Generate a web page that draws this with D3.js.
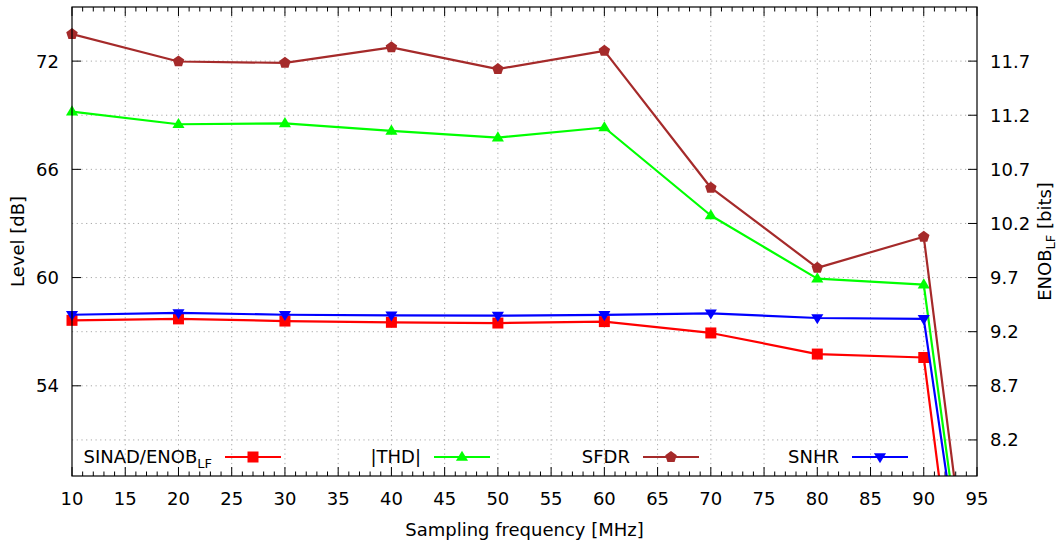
<!DOCTYPE html>
<html>
<head>
<meta charset="utf-8">
<script src="https://cdn.jsdelivr.net/npm/d3@7.9.0/dist/d3.min.js"></script>
<style>
  body { margin: 0; background: #fff; }
  svg { display: block; font-family: "DejaVu Sans", sans-serif; }
</style>
</head>
<body>
<svg id="chart" width="1057" height="548"></svg>
<script>
// sampling frequency in MHz (100 MHz point lies off the plot, only its line shows)
const freqs = [10, 20, 30, 40, 50, 60, 70, 80, 90, 100];
// levels in dB
const sinad = [57.63, 57.71, 57.59, 57.52, 57.48, 57.56, 56.93, 55.76, 55.57, 9.6];
const thd   = [69.20, 68.50, 68.55, 68.13, 67.76, 68.32, 63.44, 59.94, 59.61, 16.1];
const sfdr  = [73.50, 71.98, 71.90, 72.76, 71.56, 72.57, 64.98, 60.54, 62.26, 15.6];
const snhr  = [57.94, 58.04, 57.94, 57.91, 57.89, 57.93, 58.02, 57.76, 57.71, 17.2];

const xTicks = d3.range(10, 96, 5);
const yTicks = [54, 60, 66, 72];
// right axis: ENOB labels sit on these dB levels
const y2TickDb = [51, 54, 57, 60, 63, 66, 69, 72];
const y2TickLabels = ["8.2", "8.7", "9.2", "9.7", "10.2", "10.7", "11.2", "11.7"];

const series = [
  { name: "SINAD/ENOB", sub: "LF", values: sinad, color: "#ff0000", marker: "square" },
  { name: "|THD|", sub: null, values: thd, color: "#00ff00", marker: "triUp" },
  { name: "SFDR", sub: null, values: sfdr, color: "#a52a2a", marker: "pentagon" },
  { name: "SNHR", sub: null, values: snhr, color: "#0000ff", marker: "triDown" }
];

const svg = d3.select("#chart");
const pLeft = 72, pRight = 977, pTop = 7, pBottom = 476;

const x = d3.scaleLinear().domain([10, 95]).range([pLeft, pRight]);
const y = d3.scaleLinear().domain([49, 75]).range([pBottom, pTop]);

function markerPath(type, r) {
  if (type === "square") {
    return `M${-r},${-r}H${r}V${r}H${-r}Z`;
  }
  if (type === "triUp") {
    const h = r * 1.15;
    return `M0,${-h}L${r * 1.1},${h * 0.6}L${-r * 1.1},${h * 0.6}Z`;
  }
  if (type === "triDown") {
    const h = r * 1.15;
    return `M0,${h}L${r * 1.1},${-h * 0.6}L${-r * 1.1},${-h * 0.6}Z`;
  }
  // pentagon
  let pts = [];
  for (let i = 0; i < 5; i++) {
    let a = -Math.PI / 2 + i * 2 * Math.PI / 5;
    pts.push([r * 1.1 * Math.cos(a), r * 1.1 * Math.sin(a)]);
  }
  return "M" + pts.map(p => p.join(",")).join("L") + "Z";
}

// grid
const grid = svg.append("g").attr("stroke", "#a8a8a8").attr("stroke-width", 1)
  .attr("stroke-dasharray", "1.2,3.5");
xTicks.slice(1, -1).forEach(t => {
  grid.append("line").attr("x1", x(t)).attr("x2", x(t)).attr("y1", pTop).attr("y2", pBottom);
});
y2TickDb.forEach(t => {
  grid.append("line").attr("x1", pLeft).attr("x2", pRight).attr("y1", y(t)).attr("y2", y(t));
});

// ticks
const ticks = svg.append("g").attr("stroke", "#000").attr("stroke-width", 1);
d3.range(10, 96, 1).forEach(t => {
  const len = (t % 5 === 0) ? 9 : 4.5;
  ticks.append("line").attr("x1", x(t)).attr("x2", x(t)).attr("y1", pBottom).attr("y2", pBottom - len);
  ticks.append("line").attr("x1", x(t)).attr("x2", x(t)).attr("y1", pTop).attr("y2", pTop + len);
});
yTicks.forEach(t => {
  ticks.append("line").attr("x1", pLeft).attr("x2", pLeft + 9).attr("y1", y(t)).attr("y2", y(t));
});
y2TickDb.forEach(t => {
  ticks.append("line").attr("x1", pRight).attr("x2", pRight - 9).attr("y1", y(t)).attr("y2", y(t));
});

// tick labels
const fs = 18;
xTicks.forEach(t => {
  svg.append("text").attr("x", x(t)).attr("y", 505).attr("text-anchor", "middle")
    .attr("font-size", fs).text(t);
});
yTicks.forEach(t => {
  svg.append("text").attr("x", 59).attr("y", y(t)).attr("dy", "0.36em").attr("text-anchor", "end")
    .attr("font-size", fs).text(t);
});
y2TickDb.forEach((t, i) => {
  svg.append("text").attr("x", 990).attr("y", y(t)).attr("dy", "0.36em").attr("text-anchor", "start")
    .attr("font-size", fs).text(y2TickLabels[i]);
});

// axis titles
svg.append("text").attr("x", (pLeft + pRight) / 2).attr("y", 536).attr("text-anchor", "middle")
  .attr("font-size", fs).text("Sampling frequency [MHz]");
svg.append("text").attr("transform", `translate(24,${(pTop + pBottom) / 2}) rotate(-90)`)
  .attr("text-anchor", "middle").attr("font-size", fs).text("Level [dB]");
const y2t = svg.append("text").attr("transform", `translate(1051,${(pTop + pBottom) / 2}) rotate(-90)`)
  .attr("text-anchor", "middle").attr("font-size", fs);
y2t.append("tspan").text("ENOB");
y2t.append("tspan").attr("font-size", 13).attr("dy", 4).text("LF");
y2t.append("tspan").attr("dy", -4).text(" [bits]");

// lines
svg.append("clipPath").attr("id", "clip").append("rect")
  .attr("x", pLeft).attr("y", pTop).attr("width", pRight - pLeft).attr("height", pBottom - pTop);

const line = d3.line().x((d, i) => x(freqs[i])).y(d => y(d));

series.forEach(s => {
  svg.append("path").attr("clip-path", "url(#clip)")
    .attr("d", line(s.values)).attr("fill", "none")
    .attr("stroke", s.color).attr("stroke-width", 2.2).attr("stroke-linejoin", "round");
  s.values.forEach((v, i) => {
    if (freqs[i] > 95 || v < 49) return;
    svg.append("path").attr("transform", `translate(${x(freqs[i])},${y(v)})`)
      .attr("d", markerPath(s.marker, 5.5)).attr("fill", s.color);
  });
});

// legend
const legendY = 457;
series.forEach((s, i) => {
  const textEnd = 212 + i * 209;
  const t = svg.append("text").attr("x", textEnd).attr("y", legendY).attr("dy", "0.36em")
    .attr("text-anchor", "end").attr("font-size", fs);
  t.append("tspan").text(s.name);
  if (s.sub) {
    t.append("tspan").attr("font-size", 13).attr("dy", 5).text(s.sub);
  }
  const lx = textEnd + 13;
  svg.append("line").attr("x1", lx).attr("x2", lx + 56).attr("y1", legendY).attr("y2", legendY)
    .attr("stroke", s.color).attr("stroke-width", 2.2);
  svg.append("path").attr("transform", `translate(${lx + 28},${legendY})`)
    .attr("d", markerPath(s.marker, 5.5)).attr("fill", s.color);
});

// border
svg.append("rect").attr("x", pLeft).attr("y", pTop).attr("width", pRight - pLeft).attr("height", pBottom - pTop)
  .attr("fill", "none").attr("stroke", "#000").attr("stroke-width", 1.2);
</script>
</body>
</html>
